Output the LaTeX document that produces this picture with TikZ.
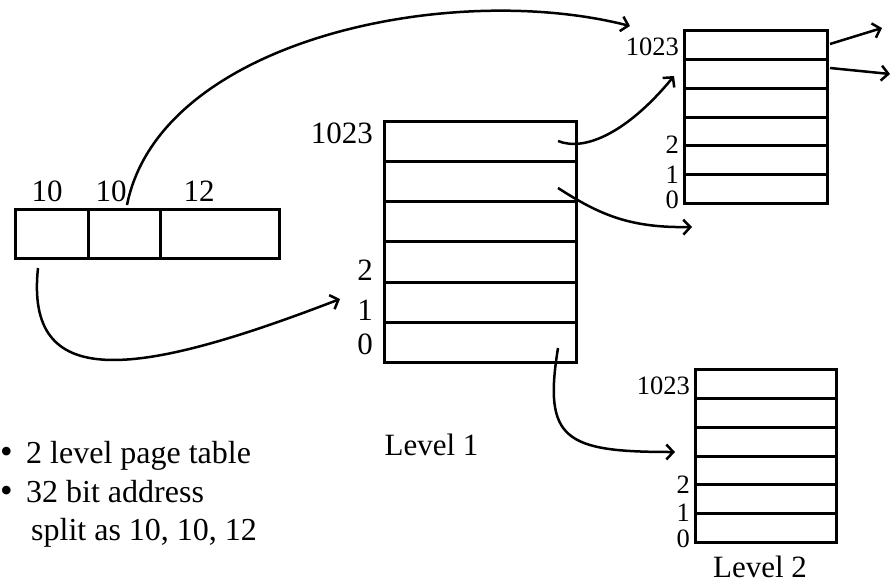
\documentclass[tikz,border=0pt]{standalone}
\usepackage{fontspec}
\setmainfont{Liberation Serif}
\usepackage{tikz}
\usetikzlibrary{arrows.meta}

\begin{document}
\begin{tikzpicture}[x=1pt,y=-1pt,
        cell/.style={draw,line width=3pt,inner sep=0,anchor=south west},
        num/.style={inner sep=0,font=\fontsize{31}{35}\selectfont},
        smallnum/.style={inner sep=0,anchor=east,font=\fontsize{26.5}{30}\selectfont},
        txt/.style={inner sep=0,anchor=base west,font=\fontsize{32}{37}\selectfont},
        ptr/.style={line width=2.5pt,-{Straight Barb[length=7pt,width=15pt]}}]
        \useasboundingbox[fill=white] (0,0) rectangle (894,584);

        \node[cell,minimum width=73pt,minimum height=49pt] (ad1) at (14,260) {};
        \node[cell,minimum width=72pt,minimum height=49pt] (ad2) at (87,260) {};
        \node[cell,minimum width=119pt,minimum height=49pt] (ad3) at (159,260) {};
        \node[num] (bits1) at (47,191) {10};
        \node[num] (bits2) at (111,191) {10};
        \node[num] (bits3) at (199,191) {12};

        \foreach \i in {0,...,5}
            \node[cell,minimum width=192pt,minimum height=40.2pt] (one\i) at (383,{364-40.2*\i}) {};
        \node[num,anchor=east] (onetop) at (373,133) {1023};
        \node[num,anchor=east] (onetwo) at (373,270) {2};
        \node[num,anchor=east] (oneone) at (373,310) {1};
        \node[num,anchor=east] (onezero) at (373,344) {0};
        \node[txt,anchor=base,font=\fontsize{31}{35}\selectfont] (levelone) at (431.5,455) {Level 1};

        \foreach \i in {0,...,5}
            \node[cell,minimum width=143pt,minimum height=28.83pt] (twoa\i) at (683,{205-28.83*\i}) {};
        \node[smallnum] (twoatop) at (679,46.5) {1023};
        \node[smallnum] (twoatwo) at (679,145) {2};
        \node[smallnum] (twoaone) at (679,175) {1};
        \node[smallnum] (twoazero) at (679,199.5) {0};

        \foreach \i in {0,...,5}
            \node[cell,minimum width=141pt,minimum height=28.83pt] (twob\i) at (694,{544-28.83*\i}) {};
        \node[smallnum] (twobtop) at (690,386) {1023};
        \node[smallnum] (twobtwo) at (690,485) {2};
        \node[smallnum] (twobone) at (690,512.5) {1};
        \node[smallnum] (twobzero) at (690,538.5) {0};
        \node[txt,anchor=base,font=\fontsize{31}{35}\selectfont] (leveltwo) at (760,577) {Level 2};

        \node[txt,font=\fontsize{36}{40}\selectfont] (dot1) at (0,463) {•};
        \node[txt] (line1) at (26,463) {2 level page table};
        \node[txt,font=\fontsize{36}{40}\selectfont] (dot2) at (0,502) {•};
        \node[txt] (line2) at (26,502) {32 bit address};
        \node[txt] (line3) at (31,540) {split as 10, 10, 12};

        \coordinate (a1) at (127,205);
        \coordinate (b1) at (630,26);
        \coordinate (a2) at (38,268);
        \coordinate (b2) at (340,299);
        \coordinate (a3) at (558,141);
        \coordinate (b3) at (674,76);
        \coordinate (a4) at (558,188);
        \coordinate (b4) at (692,227);
        \coordinate (a5) at (558,348);
        \coordinate (b5) at (675,452);
        \coordinate (a6) at (830,44);
        \coordinate (b6) at (882,28);
        \coordinate (a7) at (830,68);
        \coordinate (b7) at (890,74);

        \draw[ptr] (a1) .. controls (160,40) and (450,-20) .. (b1);
        \draw[ptr] (a2) .. controls (25,390) and (130,380) .. (b2);
        \draw[ptr] (a3) .. controls (585,152) and (628,132) .. (b3);
        \draw[ptr] (a4) .. controls (600,215) and (630,228) .. (b4);
        \draw[ptr] (a5) .. controls (543,440) and (565,452) .. (b5);
        \draw[ptr] (a6) -- (b6);
        \draw[ptr] (a7) -- (b7);
    \end{tikzpicture}
\end{document}
